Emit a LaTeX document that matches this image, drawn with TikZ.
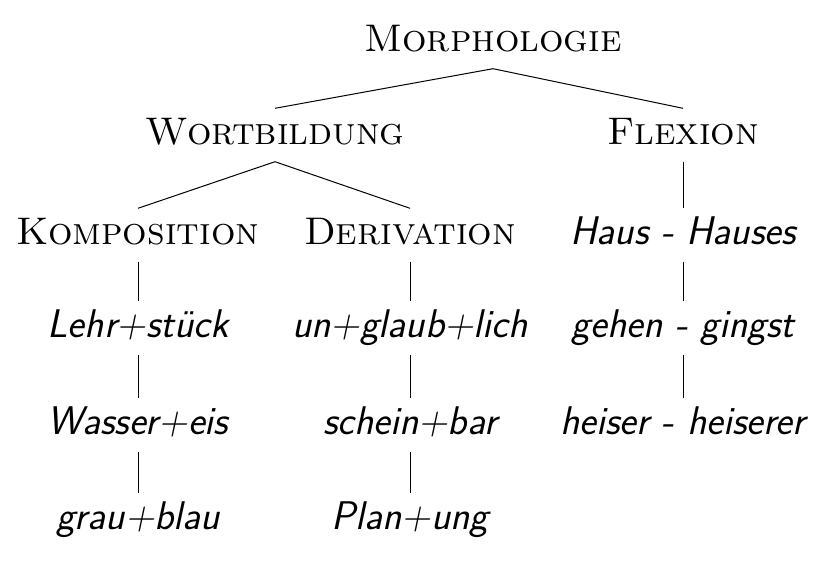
\documentclass[tikz,border=0pt]{standalone}
\begin{document}
\begin{tikzpicture}[x=1pt,y=-1pt,
  h/.style={font=\fontsize{38.5}{46}\selectfont\scshape,inner xsep=5pt,inner ysep=8pt,text height=28pt,text depth=9pt},
  e/.style={font=\fontsize{40}{48}\selectfont\sffamily\itshape,inner xsep=5pt,inner ysep=8pt,text height=28pt,text depth=9pt},
  l/.style={line width=1pt}]
\useasboundingbox (0,0) rectangle (833,576);
\node[h] (m) at (493,42) {Morphologie};
\node[h] (w) at (275,135) {Wortbildung};
\node[h] (f) at (683,135) {Flexion};
\node[h] (k) at (138,235) {Komposition};
\node[h] (d) at (410,235) {Derivation};
\node[e] (f1) at (683,235) {Haus - Hauses};
\node[e] (k1) at (138,328) {Lehr+stück};
\node[e] (d1) at (410,328) {un+glaub+lich};
\node[e] (f2) at (683,328) {gehen - gingst};
\node[e] (k2) at (138,425) {Wasser+eis};
\node[e] (d2) at (410,425) {schein+bar};
\node[e] (f3) at (683,425) {heiser - heiserer};
\node[e] (k3) at (138,520) {grau+blau};
\node[e] (d3) at (410,520) {Plan+ung};
\draw[l] (m.south) -- (w.north) (m.south) -- (f.north);
\draw[l] (w.south) -- (k.north) (w.south) -- (d.north);
\draw[l] (f.south) -- (f1.north) (f1.south) -- (f2.north) (f2.south) -- (f3.north);
\draw[l] (k.south) -- (k1.north) (k1.south) -- (k2.north) (k2.south) -- (k3.north);
\draw[l] (d.south) -- (d1.north) (d1.south) -- (d2.north) (d2.south) -- (d3.north);
\end{tikzpicture}
\end{document}
